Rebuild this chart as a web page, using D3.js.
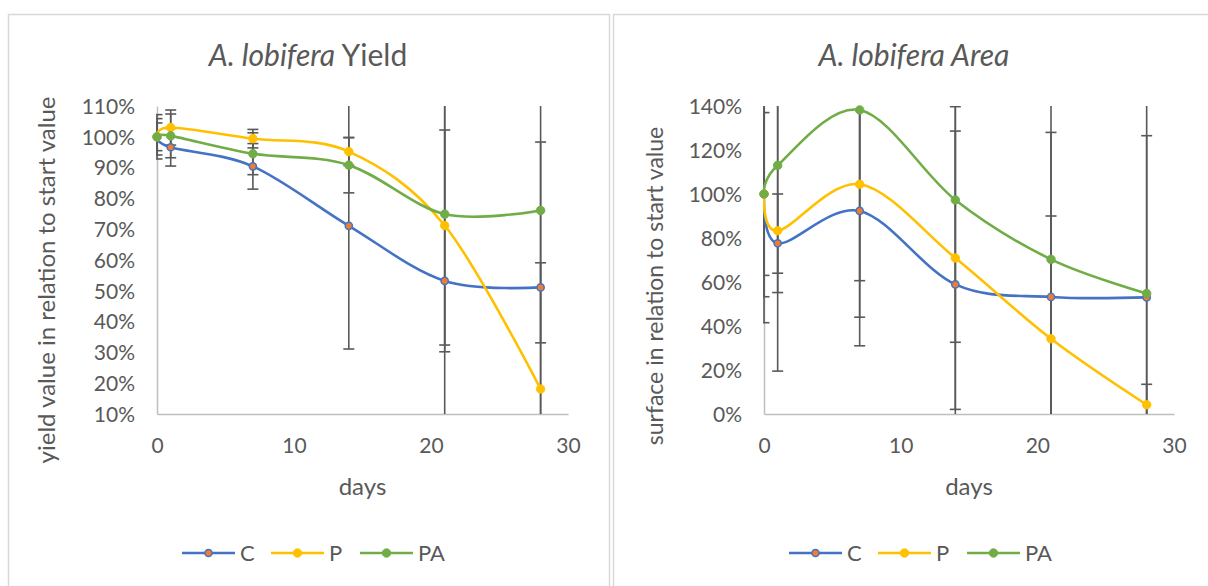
<!DOCTYPE html>
<html>
<head>
<meta charset="utf-8">
<script src="https://cdn.jsdelivr.net/npm/d3@7"></script>
<style>
  html, body { margin: 0; padding: 0; background: #fff; }
  svg { display: block; }
  text { font-family: Lato, "Open Sans", sans-serif; fill: #595959; }
</style>
</head>
<body>
<svg id="chart" width="1208" height="586"></svg>
<script>
// Sampling days
const days = [0, 1, 7, 14, 21, 28];
const seriesNames = ["C", "P", "PA"];

// Yield relative to start value (%)
const yieldC  = [100, 96.6, 90.4, 71.1, 53.2, 51.1];
const yieldP  = [100, 103.0, 99.4, 95.2, 71.2, 18.1];
const yieldPA = [100, 100.3, 94.5, 90.8, 74.9, 76.1];
// Yield error (± %)
const yieldErrC  = [7.2, 6.1, 7.4, 40, 49, 47.2];
const yieldErrP  = [5.9, 5.7, 3.0, 4.5, 41, 41];
const yieldErrPA = [4.5, 7.1, 6.8, 9.0, 42.5, 43];

// Surface relative to start value (%)
const areaC  = [100, 77.6, 92.3, 58.9, 53.2, 53.0];
const areaP  = [100, 83.3, 104.4, 70.9, 34.2, 4.2];
const areaPA = [100, 113.0, 138.2, 97.3, 70.3, 54.8];
// Surface error (± %)
const areaErrC  = [37, 22.4, 61.3, 69.7, 74.8, 73.5];
const areaErrP  = [46.7, 63.8, 60.4, 68.8, 55.8, 9.3];
const areaErrPA = [58.5, 49, 77.6, 64.7, 75, 90];

// Axis ticks
const xTicks = [0, 10, 20, 30];
const yieldTicks = [10, 20, 30, 40, 50, 60, 70, 80, 90, 100, 110];
const areaTicks = [0, 20, 40, 60, 80, 100, 120, 140];

const colors = {
  C:  { line: "#4472C4", fill: "#ED7D31", r: 3.6 },
  P:  { line: "#FFC000", fill: "#FFC000", r: 4.3 },
  PA: { line: "#70AD47", fill: "#70AD47", r: 4.3 }
};

const svg = d3.select("#chart");

// Panel frames
svg.append("rect").attr("x", 8.5).attr("y", 14.5).attr("width", 601).attr("height", 600)
  .attr("fill", "#fff").attr("stroke", "#d9d9d9").attr("stroke-width", 1.5);
svg.append("rect").attr("x", 613.5).attr("y", 14.5).attr("width", 620).attr("height", 600)
  .attr("fill", "#fff").attr("stroke", "#d9d9d9").attr("stroke-width", 1.5);

function drawPanel(cfg) {
  const g = svg.append("g");
  const x = d3.scaleLinear().domain([0, 30]).range([cfg.left, cfg.right]);
  const y = d3.scaleLinear().domain(cfg.yDomain).range([cfg.bottom, cfg.top]);

  const clipId = "clip-" + cfg.id;
  svg.append("clipPath").attr("id", clipId).append("rect")
    .attr("x", cfg.left - 1).attr("y", cfg.top)
    .attr("width", cfg.right - cfg.left + 9).attr("height", cfg.bottom - cfg.top);

  // Title
  const title = g.append("text")
    .attr("x", cfg.titleX).attr("y", 66)
    .attr("text-anchor", "middle")
    .style("font-size", "30px");
  cfg.title.forEach(part => {
    title.append("tspan").text(part.t).style("font-style", part.italic ? "italic" : "normal");
  });

  // Axes
  const yAxis = d3.axisLeft(y).tickValues(cfg.yTicks).tickSize(0).tickPadding(22)
    .tickFormat(d => d + "%");
  const yg = g.append("g").attr("transform", `translate(${cfg.left},0)`).call(yAxis);
  yg.select(".domain").attr("stroke", "#bfbfbf").attr("stroke-width", 1.5);
  yg.selectAll("text").style("font-size", "21px").attr("fill", "#595959").attr("dy", "0.35em");

  const xAxis = d3.axisBottom(x).tickValues(xTicks).tickSize(0).tickPadding(24);
  const xg = g.append("g").attr("transform", `translate(0,${cfg.bottom})`).call(xAxis);
  xg.select(".domain").attr("stroke", "#bfbfbf").attr("stroke-width", 1.5);
  xg.selectAll("text").style("font-size", "21px").attr("fill", "#595959");

  // Axis titles
  g.append("text")
    .attr("transform", `translate(${cfg.yLabelX},${cfg.yLabelY}) rotate(-90)`)
    .attr("text-anchor", "middle").attr("dy", "0.35em")
    .style("font-size", cfg.yLabelSize).text(cfg.yLabel);
  g.append("text")
    .attr("x", (cfg.left + cfg.right) / 2).attr("y", 495)
    .attr("text-anchor", "middle").style("font-size", "24px").text("days");

  const plot = g.append("g").attr("clip-path", `url(#${clipId})`);
  const [yMin, yMax] = cfg.yDomain;

  // Error bars (clipped to the value range; caps only where the end is inside)
  cfg.series.forEach(s => {
    days.forEach((d, i) => {
      const v = s.values[i], e = s.errors[i];
      const lo = v - e, hi = v + e;
      const px = x(d);
      plot.append("line")
        .attr("x1", px).attr("x2", px)
        .attr("y1", y(Math.min(hi, yMax))).attr("y2", y(Math.max(lo, yMin)))
        .attr("stroke", "#595959").attr("stroke-width", 1.6);
      [lo, hi].forEach(end => {
        if (end >= yMin && end <= yMax) {
          plot.append("line")
            .attr("x1", px - 5.5).attr("x2", px + 5.5)
            .attr("y1", y(end)).attr("y2", y(end))
            .attr("stroke", "#595959").attr("stroke-width", 1.6);
        }
      });
    });
  });

  // Smoothed lines
  const line = d3.line().x((d, i) => x(days[i])).y(d => y(d)).curve(d3.curveCardinal.tension(0));
  cfg.series.forEach(s => {
    plot.append("path").datum(s.values)
      .attr("d", line).attr("fill", "none")
      .attr("stroke", colors[s.name].line).attr("stroke-width", 2.6)
      .attr("stroke-linejoin", "round");
  });

  // Markers
  cfg.series.forEach(s => {
    const c = colors[s.name];
    g.selectAll(null).data(s.values).join("circle")
      .attr("cx", (d, i) => x(days[i])).attr("cy", d => y(d))
      .attr("r", c.r).attr("fill", c.fill)
      .attr("stroke", c.line).attr("stroke-width", s.name === "C" ? 1.5 : 0.8);
  });

  // Legend
  const lg = g.append("g").attr("transform", `translate(${cfg.legendX},553)`);
  let off = 0;
  seriesNames.forEach(n => {
    const c = colors[n];
    lg.append("line").attr("x1", off).attr("x2", off + 53).attr("y1", 0).attr("y2", 0)
      .attr("stroke", c.line).attr("stroke-width", 2.6);
    lg.append("circle").attr("cx", off + 26.5).attr("cy", 0).attr("r", c.r)
      .attr("fill", c.fill).attr("stroke", c.line).attr("stroke-width", n === "C" ? 1.5 : 0.8);
    lg.append("text").attr("x", off + 58).attr("y", 0).attr("dy", "0.36em")
      .style("font-size", "22px").text(n);
    off += 89;
  });
}

drawPanel({
  id: "yield", left: 157, right: 568, top: 106, bottom: 414,
  yDomain: [10, 110], yTicks: yieldTicks, titleX: 308,
  title: [{ t: "A. lobifera", italic: true }, { t: " Yield", italic: false }],
  yLabel: "yield value in relation to start value", yLabelX: 47, yLabelY: 280, yLabelSize: "24px",
  legendX: 182,
  series: [
    { name: "C", values: yieldC, errors: yieldErrC },
    { name: "P", values: yieldP, errors: yieldErrP },
    { name: "PA", values: yieldPA, errors: yieldErrPA }
  ]
});

drawPanel({
  id: "area", left: 764, right: 1174, top: 106, bottom: 414,
  yDomain: [0, 140], yTicks: areaTicks, titleX: 914,
  title: [{ t: "A. lobifera Area", italic: true }],
  yLabel: "surface in relation to start value", yLabelX: 655, yLabelY: 286, yLabelSize: "23px",
  legendX: 789,
  series: [
    { name: "C", values: areaC, errors: areaErrC },
    { name: "P", values: areaP, errors: areaErrP },
    { name: "PA", values: areaPA, errors: areaErrPA }
  ]
});
</script>
</body>
</html>
